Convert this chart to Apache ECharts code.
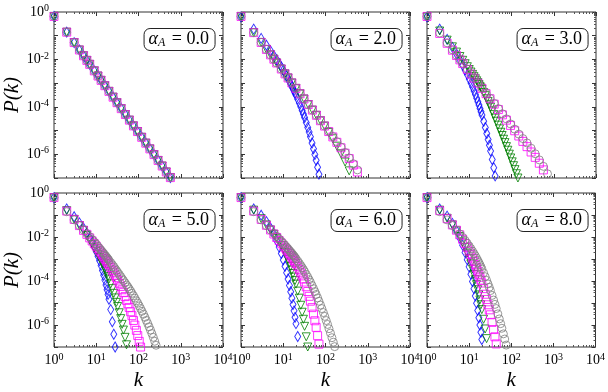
<!DOCTYPE html>
<html>
<head>
<meta charset="utf-8">
<script src="https://cdn.jsdelivr.net/npm/echarts@6/dist/echarts.min.js"></script>
<style>
  html, body { margin: 0; padding: 0; background: #fff; }
  #chart { width: 608px; height: 392px; }
</style>
</head>
<body>
<div id="chart"></div>
<script>
// degree grids (k values)
const kBin = [1, 2, 3, 4, 5, 6, 7, 9, 11, 13, 16, 20, 25, 31, 39, 49, 61, 76, 95, 119, 149, 186, 233, 291, 364, 455, 569, 711]
const kAll = [1, 2, 3, 4, 5, 6, 7, 8, 9, 10, 11, 12, 13, 14, 15, 16, 17, 18, 19, 20,
  22, 24, 26, 28, 30, 32, 35, 38, 41, 44, 48, 52, 56, 60, 65, 70, 76, 82, 89, 96,
  104, 112, 121, 131, 142, 153, 165, 178, 192, 207, 224, 242, 261, 282, 305, 329, 355, 383]

const alphaLabels = ['0.0', '2.0', '3.0', '5.0', '6.0', '8.0']

// alpha_A = 0.0 : all four curves coincide
const pA0 = [0.65, 0.141, 0.0513, 0.025, 0.0143, 0.0091, 0.0062, 0.0033, 0.002, 0.00131, 7.8e-4, 4.5e-4, 2.56e-4, 1.5e-4,
  8.4e-5, 4.75e-5, 2.75e-5, 1.58e-5, 9.1e-6, 5.2e-6, 2.95e-6, 1.69e-6, 9.7e-7, 5.5e-7, 3.2e-7, 1.8e-7, 1.04e-7]

// alpha_A = 2.0
const blue2 = [0.62, 0.19, 0.077, 0.0395, 0.023, 0.0145, 0.0096, 0.0067, 0.0048, 0.0035, 0.0026, 0.00197, 0.00152, 0.00118,
  9.3e-4, 7.4e-4, 5.9e-4, 4.75e-4, 3.85e-4, 3.13e-4, 2.11e-4, 1.45e-4, 1.0e-4, 7.0e-5, 5.0e-5, 3.56e-5, 2.18e-5, 1.36e-5,
  8.6e-6, 5.5e-6, 3.0e-6, 1.7e-6, 9.7e-7, 5.6e-7, 2.83e-7, 1.45e-7]
const green2 = [0.65, 0.135, 0.052, 0.0264, 0.0156, 0.0102, 0.0071, 0.00394, 0.00246, 0.00166, 0.00102, 6.0e-4, 3.56e-4,
  2.15e-4, 1.25e-4, 7.3e-5, 4.4e-5, 2.6e-5, 1.55e-5, 8.3e-6, 4.5e-6, 2.2e-6, 1.05e-6, 4.7e-7, 2.0e-7]
const magenta2 = [0.65, 0.135, 0.052, 0.0264, 0.0156, 0.0102, 0.0071, 0.00394, 0.00246, 0.00166, 0.00102, 6.0e-4, 3.56e-4,
  2.15e-4, 1.25e-4, 7.3e-5, 4.4e-5, 2.6e-5, 1.55e-5, 9.1e-6, 5.4e-6, 3.2e-6, 1.88e-6, 1.11e-6, 6.6e-7, 3.5e-7, 1.8e-7]
const gray2 = [0.65, 0.135, 0.052, 0.0264, 0.0156, 0.0102, 0.0071, 0.00394, 0.00246, 0.00166, 0.00102, 6.0e-4, 3.56e-4,
  2.15e-4, 1.25e-4, 7.3e-5, 4.4e-5, 2.6e-5, 1.55e-5, 9.3e-6, 5.6e-6, 3.4e-6, 2.0e-6, 1.2e-6, 7.0e-7, 4.0e-7, 2.2e-7]

// alpha_A = 3.0
const blue3 = [0.62, 0.19, 0.07, 0.0323, 0.0169, 0.0096, 0.0057, 0.00356, 0.00229, 0.0015, 0.00101, 6.9e-4, 4.7e-4, 3.3e-4,
  2.33e-4, 1.66e-4, 1.19e-4, 8.6e-5, 6.2e-5, 4.55e-5, 2.46e-5, 1.35e-5, 7.5e-6, 4.2e-6, 2.4e-6, 1.38e-6, 6.0e-7, 2.7e-7, 1.22e-7]
const green3 = [0.62, 0.158, 0.065, 0.034, 0.0204, 0.0133, 0.00917, 0.0066, 0.00492, 0.00376, 0.00294, 0.00233, 0.00187,
  0.00153, 0.00126, 0.00105, 8.8e-4, 7.4e-4, 6.3e-4, 5.4e-4, 4.0e-4, 2.96e-4, 2.21e-4, 1.67e-4, 1.27e-4, 9.7e-5, 6.7e-5,
  4.7e-5, 3.36e-5, 2.48e-5, 1.69e-5, 1.18e-5, 8.5e-6, 6.2e-6, 4.3e-6, 3.1e-6, 2.1e-6, 1.48e-6, 1.01e-6, 7.0e-7, 4.8e-7,
  3.3e-7, 2.25e-7, 1.51e-7, 1.0e-7]
const magenta3 = [0.65, 0.125, 0.048, 0.0245, 0.0146, 0.0096, 0.0067, 0.0038, 0.0024, 0.00162, 0.001, 6.0e-4, 3.6e-4, 2.2e-4,
  1.3e-4, 7.7e-5, 4.6e-5, 2.75e-5, 1.65e-5, 9.8e-6, 5.9e-6, 3.5e-6, 2.1e-6, 1.25e-6, 7.4e-7, 4.2e-7, 2.2e-7]
const gray3 = [0.65, 0.13, 0.05, 0.0255, 0.015, 0.0099, 0.0069, 0.0039, 0.0025, 0.00168, 0.00104, 6.2e-4, 3.8e-4, 2.3e-4,
  1.4e-4, 8.4e-5, 5.1e-5, 3.1e-5, 1.9e-5, 1.15e-5, 7.1e-6, 4.6e-6, 3.0e-6, 1.8e-6, 1.05e-6, 5.8e-7, 3.1e-7, 1.5e-7]

// alpha_A = 5.0
const blue4 = [0.62, 0.19, 0.083, 0.044, 0.025, 0.0151, 0.0093, 0.0058, 0.00355, 0.00219, 0.00135, 8.3e-4, 5.0e-4, 3.0e-4,
  1.82e-4, 1.1e-4, 6.6e-5, 4.0e-5, 2.45e-5, 1.48e-5, 5.0e-6, 1.41e-6, 3.8e-7, 1.0e-7]
const green4 = [0.62, 0.158, 0.063, 0.033, 0.02, 0.0115, 0.0071, 0.00462, 0.00316, 0.00219, 0.00158, 0.00115, 8.5e-4, 6.5e-4,
  4.8e-4, 3.6e-4, 2.75e-4, 2.1e-4, 1.58e-4, 1.23e-4, 7.4e-5, 4.5e-5, 2.75e-5, 1.7e-5, 1.07e-5, 6.9e-6, 3.6e-6, 1.95e-6,
  1.07e-6, 5.9e-7, 2.75e-7, 1.26e-7]
const magenta4 = [0.62, 0.151, 0.063, 0.033, 0.02, 0.0132, 0.0091, 0.0066, 0.00495, 0.0038, 0.00297, 0.00234, 0.00188, 0.00154,
  0.00127, 0.00105, 8.9e-4, 7.5e-4, 6.3e-4, 5.4e-4, 4.06e-4, 3.06e-4, 2.34e-4, 1.82e-4, 1.42e-4, 1.11e-4, 7.9e-5, 5.6e-5,
  4.0e-5, 2.95e-5, 1.95e-5, 1.32e-5, 9.1e-6, 6.3e-6, 4.0e-6, 2.65e-6, 1.61e-6, 9.9e-7, 5.7e-7, 3.3e-7, 1.8e-7, 1.0e-7]
const gray4 = [0.62, 0.141, 0.06, 0.033, 0.021, 0.0141, 0.0102, 0.0076, 0.0059, 0.0047, 0.0037, 0.003, 0.0025, 0.0021,
  0.00178, 0.00151, 0.00132, 0.00115, 0.001, 8.7e-4, 6.9e-4, 5.5e-4, 4.5e-4, 3.6e-4, 3.0e-4, 2.5e-4, 2.0e-4, 1.58e-4,
  1.26e-4, 1.05e-4, 8.3e-5, 6.6e-5, 5.4e-5, 4.4e-5, 3.5e-5, 2.75e-5, 2.14e-5, 1.66e-5, 1.26e-5, 9.8e-6, 7.4e-6, 5.6e-6,
  4.2e-6, 3.1e-6, 2.24e-6, 1.62e-6, 1.17e-6, 8.3e-7, 5.9e-7, 4.1e-7, 2.75e-7, 1.82e-7, 1.2e-7]

// alpha_A = 6.0
const blue5 = [0.62, 0.19, 0.098, 0.05, 0.0257, 0.0132, 0.0068, 0.00347, 0.00178, 9.1e-4, 4.7e-4, 2.4e-4, 1.23e-4, 6.3e-5,
  3.24e-5, 1.66e-5, 8.5e-6, 4.4e-6, 2.24e-6, 1.15e-6, 3.0e-7]
const green5 = [0.62, 0.166, 0.068, 0.0355, 0.0209, 0.0132, 0.0087, 0.0059, 0.0041, 0.00288, 0.002, 0.00138, 9.5e-4, 6.6e-4,
  4.6e-4, 3.16e-4, 2.19e-4, 1.51e-4, 1.05e-4, 7.2e-5, 3.47e-5, 1.66e-5, 7.9e-6, 3.8e-6, 1.82e-6, 8.7e-7, 2.9e-7, 1.0e-7]
const magenta5 = [0.62, 0.151, 0.063, 0.034, 0.0209, 0.0137, 0.0095, 0.00693, 0.00524, 0.00406, 0.00323, 0.00259, 0.00211,
  0.00175, 0.00145, 0.00121, 0.00102, 8.57e-4, 7.23e-4, 6.15e-4, 4.47e-4, 3.26e-4, 2.36e-4, 1.71e-4, 1.24e-4, 8.97e-5,
  5.47e-5, 3.33e-5, 2.01e-5, 1.21e-5, 6.17e-6, 3.12e-6, 1.56e-6, 7.83e-7, 3.27e-7, 1.35e-7]
const gray5 = [0.62, 0.141, 0.06, 0.033, 0.0209, 0.0145, 0.0107, 0.0081, 0.00637, 0.00509, 0.00418, 0.00346, 0.0029, 0.00245,
  0.00209, 0.0018, 0.00156, 0.00136, 0.00118, 0.00104, 8.07e-4, 6.34e-4, 5.04e-4, 4.06e-4, 3.28e-4, 2.68e-4, 1.99e-4,
  1.5e-4, 1.14e-4, 8.77e-5, 6.24e-5, 4.5e-5, 3.3e-5, 2.44e-5, 1.7e-5, 1.2e-5, 8.1e-6, 5.56e-6, 3.68e-6, 2.47e-6, 1.6e-6,
  1.06e-6, 6.8e-7, 4.3e-7, 2.65e-7, 1.66e-7, 1.04e-7]

// alpha_A = 8.0
const blue6 = [0.62, 0.19, 0.089, 0.0417, 0.0195, 0.0091, 0.00427, 0.002, 9.3e-4, 4.4e-4, 2.04e-4, 9.5e-5, 4.5e-5, 2.09e-5,
  9.8e-6, 4.6e-6, 2.14e-6, 1.0e-6, 4.7e-7, 2.19e-7]
const green6 = [0.62, 0.166, 0.0708, 0.0355, 0.019, 0.0105, 0.0059, 0.0033, 0.00186, 0.00105, 6.0e-4, 3.47e-4, 2.0e-4,
  1.15e-4, 6.8e-5, 4.0e-5, 2.34e-5, 1.38e-5, 8.3e-6, 5.0e-6, 1.82e-6, 6.6e-7, 2.4e-7]
const magenta6 = [0.62, 0.158, 0.068, 0.0355, 0.0204, 0.0126, 0.0079, 0.0051, 0.0034, 0.00229, 0.00158, 0.0011, 7.8e-4,
  5.5e-4, 3.9e-4, 2.82e-4, 2.04e-4, 1.48e-4, 1.1e-4, 8.1e-5, 4.5e-5, 2.5e-5, 1.45e-5, 8.3e-6, 4.9e-6, 2.9e-6, 1.32e-6,
  6.2e-7, 2.9e-7, 1.38e-7]
const gray6 = [0.62, 0.141, 0.06, 0.033, 0.0204, 0.0137, 0.0096, 0.007, 0.00516, 0.00388, 0.00296, 0.00228, 0.00177,
  0.00139, 0.00109, 8.65e-4, 6.9e-4, 5.5e-4, 4.4e-4, 3.56e-4, 2.36e-4, 1.57e-4, 1.07e-4, 7.4e-5, 5.2e-5, 3.65e-5, 2.21e-5,
  1.36e-5, 8.65e-6, 5.6e-6, 3.2e-6, 1.89e-6, 1.15e-6, 7.1e-7, 3.95e-7, 2.3e-7, 1.22e-7]

// which k grid each curve is sampled on, per panel
const panels = [
  { blue: [kBin, pA0], green: [kBin, pA0], magenta: [kBin, pA0], gray: [kBin, pA0] },
  { blue: [kAll, blue2], green: [kBin, green2], magenta: [kBin, magenta2], gray: [kBin, gray2] },
  { blue: [kAll, blue3], green: [kAll, green3], magenta: [kBin, magenta3], gray: [kBin, gray3] },
  { blue: [kAll, blue4], green: [kAll, green4], magenta: [kAll, magenta4], gray: [kAll, gray4] },
  { blue: [kAll, blue5], green: [kAll, green5], magenta: [kAll, magenta5], gray: [kAll, gray5] },
  { blue: [kAll, blue6], green: [kAll, green6], magenta: [kAll, magenta6], gray: [kAll, gray6] },
]

const markers = {
  gray: { symbol: 'circle', symbolSize: 8, color: '#808080' },
  magenta: { symbol: 'rect', symbolSize: 8, color: '#ff00ff' },
  green: { symbol: 'triangle', symbolSize: 8, rotate: 180, color: '#008000' },
  blue: { symbol: 'diamond', symbolSize: [6, 10], color: '#0000ff' },
}

const cols = [54, 241, 427]
const rows = [12, 193]
const PW = 169
const PH = 166
const serif = 'Liberation Serif'

const labelRich = {
  b: { fontFamily: serif, fontSize: 14, color: '#000', lineHeight: 17 },
  s: { fontFamily: serif, fontSize: 10, color: '#000', verticalAlign: 'top', lineHeight: 17 },
}
function powLabel(v) {
  const e = Math.round(Math.log10(v))
  return '{b|10}{s|' + e + '}'
}

const grid = [], xAxis = [], yAxis = [], title = [], series = []
const tickStyle = { show: true, inside: true, length: 4, lineStyle: { color: '#333', width: 1 } }
const minorStyle = { show: true, splitNumber: 9, length: 2, lineStyle: { color: '#555', width: 1 } }

panels.forEach((p, i) => {
  const r = Math.floor(i / 3), c = i % 3
  grid.push({ left: cols[c], top: rows[r], width: PW, height: PH, show: true,
    borderColor: '#333', borderWidth: 1, backgroundColor: '#fff' })

  const xBase = { type: 'log', logBase: 10, min: 1, max: 1e4, splitNumber: 4, gridIndex: i,
    axisLine: { show: false }, axisTick: tickStyle, minorTick: minorStyle, splitLine: { show: false } }
  xAxis.push(Object.assign({}, xBase, {
    position: 'bottom',
    axisLabel: { show: r === 1, formatter: powLabel, rich: labelRich, margin: 5, showMinLabel: true, showMaxLabel: true },
    name: r === 1 ? 'k' : '', nameLocation: 'middle', nameGap: 23,
    nameTextStyle: { fontFamily: serif, fontStyle: 'italic', fontSize: 21, color: '#000' },
  }))
  xAxis.push(Object.assign({}, xBase, { position: 'top', axisLabel: { show: false } }))

  const yBase = { type: 'log', logBase: 10, min: 1e-7, max: 1, splitNumber: 7, gridIndex: i,
    axisLine: { show: false }, axisTick: tickStyle, minorTick: minorStyle, splitLine: { show: false } }
  yAxis.push(Object.assign({}, yBase, {
    position: 'left',
    axisLabel: {
      show: c === 0, rich: labelRich, margin: 5, showMinLabel: true, showMaxLabel: true,
      formatter: (v) => (Math.round(Math.log10(v)) % 2 === 0 ? powLabel(v) : ''),
    },
    name: c === 0 ? 'P(k)' : '', nameLocation: 'middle', nameGap: 26, nameRotate: 90,
    nameTextStyle: { fontFamily: serif, fontStyle: 'italic', fontSize: 21, color: '#000' },
  }))
  yAxis.push(Object.assign({}, yBase, { position: 'right', axisLabel: { show: false } }))

  title.push({
    text: '{a|α}{sub|A}{t| = ' + alphaLabels[i] + '}',
    right: 608 - (cols[c] + PW - 8),
    top: rows[r] + 15,
    padding: [2, 6, 2, 5],
    borderColor: '#222', borderWidth: 1, borderRadius: 6, backgroundColor: '#fff',
    textStyle: {
      fontWeight: 'normal',
      rich: {
        a: { fontFamily: serif, fontStyle: 'italic', fontWeight: 'normal', fontSize: 18, color: '#000', lineHeight: 20 },
        sub: { fontFamily: serif, fontStyle: 'italic', fontWeight: 'normal', fontSize: 12, color: '#000', verticalAlign: 'bottom', lineHeight: 20, padding: [0, 2, 0, 0] },
        t: { fontFamily: serif, fontWeight: 'normal', fontSize: 18, color: '#000', lineHeight: 20 },
      },
    },
  })

  ;['blue', 'green', 'magenta', 'gray'].forEach((name) => {
    const [ks, ps] = p[name]
    const m = markers[name]
    series.push({
      type: 'scatter', xAxisIndex: 2 * i, yAxisIndex: 2 * i,
      data: ps.map((v, j) => [ks[j], v]),
      symbol: m.symbol, symbolSize: m.symbolSize, symbolRotate: m.rotate || 0,
      itemStyle: { color: 'transparent', borderColor: m.color, borderWidth: 1 },
      silent: true, clip: true,
    })
  })
})

const chart = echarts.init(document.getElementById('chart'), null, { renderer: 'canvas' })
chart.setOption({ animation: false, backgroundColor: '#fff', grid, xAxis, yAxis, title, series })
</script>
</body>
</html>
